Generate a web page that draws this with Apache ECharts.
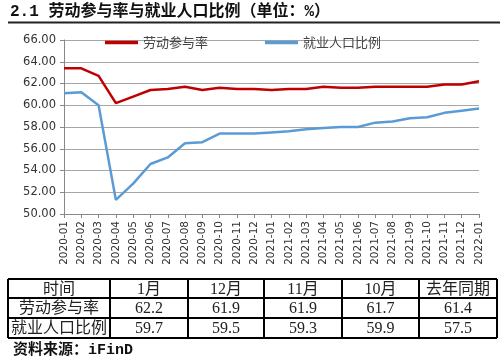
<!DOCTYPE html>
<html><head><meta charset="utf-8">
<script src="https://cdn.jsdelivr.net/npm/echarts@6/dist/echarts.min.js"></script>
<style>html,body{margin:0;padding:0;background:#fff}#c{width:500px;height:360px}</style>
</head><body><div id="c"></div>
<script>
const categories = ['2020-01','2020-02','2020-03','2020-04','2020-05','2020-06','2020-07','2020-08','2020-09','2020-10','2020-11','2020-12','2021-01','2021-02','2021-03','2021-04','2021-05','2021-06','2021-07','2021-08','2021-09','2021-10','2021-11','2021-12','2022-01'];
const laborRate = [63.4,63.4,62.7,60.2,60.8,61.4,61.5,61.7,61.4,61.6,61.5,61.5,61.4,61.5,61.5,61.7,61.6,61.6,61.7,61.7,61.7,61.7,61.9,61.9,62.2];
const employRatio = [61.1,61.2,60.0,51.3,52.8,54.6,55.2,56.5,56.6,57.4,57.4,57.4,57.5,57.6,57.8,57.9,58.0,58.0,58.4,58.5,58.8,58.9,59.3,59.5,59.7];
const seriesNames = ['劳动参与率','就业人口比例'];
const titleText = '2.1 劳动参与率与就业人口比例（单位：%）';
const tableHeader = ['时间','1月','12月','11月','10月','去年同期'];
const tableRow1 = ['劳动参与率','62.2','61.9','61.9','61.7','61.4'];
const tableRow2 = ['就业人口比例','59.7','59.5','59.3','59.9','57.5'];
const sourceText = '资料来源：iFinD';

const colX = [8,110,188,264,342,419,497];
const rowY = [279,298,318,338];
const tableFont = '"Liberation Serif","Noto Sans CJK SC",serif';
const monoCJK = '"Liberation Mono","Noto Sans CJK SC",monospace';
const graphic = [];
graphic.push({type:'text',x:10,y:12,style:{text:titleText,font:'bold 16px '+monoCJK,fill:'#111',verticalAlign:'middle'}});
graphic.push({type:'line',shape:{x1:8,y1:22.5,x2:500,y2:22.5},style:{stroke:'#222',lineWidth:2}});
for (const y of rowY) graphic.push({type:'line',shape:{x1:colX[0],y1:y,x2:colX[colX.length-1],y2:y},style:{stroke:'#000',lineWidth:2}});
for (const x of colX) graphic.push({type:'line',shape:{x1:x,y1:rowY[0],x2:x,y2:rowY[rowY.length-1]},style:{stroke:'#000',lineWidth:2}});
[tableHeader,tableRow1,tableRow2].forEach((row,ri)=>{
  row.forEach((t,ci)=>{
    graphic.push({type:'text',x:(colX[ci]+colX[ci+1])/2,y:(rowY[ri]+rowY[ri+1])/2+1,
      style:{text:t,font:'16px '+tableFont,fill:'#222',align:'center',verticalAlign:'middle'}});
  });
});
graphic.push({type:'text',x:13,y:350,style:{text:sourceText,font:'bold 15px '+monoCJK,fill:'#111',verticalAlign:'middle'}});

const chart = echarts.init(document.getElementById('c'));
chart.setOption({
  animation:false,
  textStyle:{fontFamily:'"Noto Sans CJK SC", sans-serif'},
  grid:{left:64,right:21,top:40,bottom:146},
  legend:{left:100,top:31,itemGap:57,itemWidth:33,itemHeight:3.5,icon:'rect',
    textStyle:{fontSize:13,color:'#444',fontFamily:'"Noto Sans CJK SC"'},
    data:seriesNames},
  xAxis:{type:'category',data:categories,boundaryGap:false,
    axisLine:{lineStyle:{color:'#888'}},axisTick:{show:true,lineStyle:{color:'#888'},length:4},
    axisLabel:{rotate:90,fontSize:10.5,color:'#333',margin:7,fontFamily:'"DejaVu Sans"',interval:0}},
  yAxis:{type:'value',min:50,max:66,interval:2,
    axisLine:{show:true,lineStyle:{color:'#888'}},axisTick:{show:true,lineStyle:{color:'#888'},length:4},
    axisLabel:{formatter:v=>v.toFixed(2),fontSize:11.5,color:'#333',margin:8,fontFamily:'"DejaVu Sans"'},
    splitLine:{lineStyle:{color:'#a6a6a6',width:1}}},
  series:[
    {name:seriesNames[0],type:'line',data:laborRate,symbol:'none',lineStyle:{color:'#C00000',width:2.5},itemStyle:{color:'#C00000'}},
    {name:seriesNames[1],type:'line',data:employRatio,symbol:'none',lineStyle:{color:'#5B9BD5',width:2.5},itemStyle:{color:'#5B9BD5'}}
  ],
  graphic:graphic
});
</script></body></html>
